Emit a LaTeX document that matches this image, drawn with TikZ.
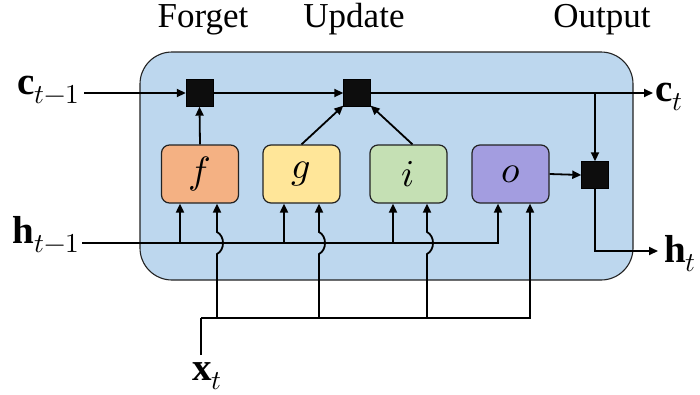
\documentclass[tikz,border=0pt]{standalone}
\usepackage{fontspec}
\usepackage{unicode-math}
\setmainfont{Liberation Serif}
\setmathfont{Latin Modern Math}
\usetikzlibrary{arrows.meta,calc}
\definecolor{cellblue}{HTML}{BDD7EE}
\definecolor{fcol}{HTML}{F4B183}
\definecolor{gcol}{HTML}{FFE699}
\definecolor{icol}{HTML}{C5E0B4}
\definecolor{ocol}{HTML}{A39DE0}
\definecolor{edge}{HTML}{222222}
\begin{document}
\begin{tikzpicture}[x=1pt,y=-1pt,
  line/.style={line width=1.8pt, black},
  arr/.style={line, -{Triangle[length=9pt,width=8pt]}},
  cellbox/.style={draw=edge, line width=1.1pt, fill=cellblue, rounded corners=32pt, minimum width=493pt, minimum height=228pt, inner sep=0pt},
  gate/.style={draw=edge, line width=1.2pt, rounded corners=8pt, minimum width=77pt, minimum height=58pt, inner sep=0pt, font=\fontsize{38}{40}\selectfont},
  mult/.style={fill=black!95, draw=black, minimum size=27pt, inner sep=0pt},
  title/.style={font=\fontsize{35}{38}\selectfont, anchor=base},
  io/.style={font=\fontsize{39}{42}\selectfont, inner sep=0pt}
]
\useasboundingbox (0,0) rectangle (700,394);
\node[cellbox] (cell) at (386.5,166) {};

% titles
\node[title] (tf) at (203,27) {Forget};
\node[title] (tu) at (354,27) {Update};
\node[title] (to) at (602,27) {Output};

% gates
\node[gate, fill=fcol] (f) at (200,174) {$f$};
\node[gate, fill=gcol] (g) at (301.5,174) {$g$};
\node[gate, fill=icol] (i) at (408.5,174) {$i$};
\node[gate, fill=ocol] (o) at (510.5,174) {$o$};

% multiplication squares
\node[mult] (fm) at (199.5,93) {};
\node[mult] (um) at (357,93) {};
\node[mult] (om) at (595,175) {};

% io labels
\node[io, anchor=base east] (cprev) at (80,94) {$\mathbf{c}_{t-1}$};
\node[io, anchor=base west] (cnext) at (655,101) {$\mathbf{c}_{t}$};
\node[io, anchor=base east] (hprev) at (80,243) {$\mathbf{h}_{t-1}$};
\node[io, anchor=base west] (hnext) at (664,262) {$\mathbf{h}_{t}$};
\node[io, anchor=base west] (xin) at (192,380) {$\mathbf{x}_{t}$};

\coordinate (cin) at (84,93);
\coordinate (cout) at (653,93);
\coordinate (hin) at (82,243);
\coordinate (hout) at (658,251);
\coordinate (xstart) at (201,355);
\coordinate (xbus) at (201,318);

% cell state
\draw[arr] (cin) -- (fm);
\draw[arr] (fm) -- (um);
\draw[arr] (um) -- (cout);
\draw[arr] (om.north |- cin) -- (om.north);

% gates to multipliers
\draw[arr] (f.north) -- (fm.south);
\draw[arr] (g.north) -- (um);
\draw[arr] ([xshift=4pt]i.north) -- (um);
\draw[arr] (o.east) -- (om.west);
\draw[arr] (om.south) |- (hout);

% hidden state inputs
\draw[arr] (hin) -| ([xshift=-12.5pt]o.south);
\draw[arr] ([xshift=-20pt]f.south |- hin) -- ([xshift=-20pt]f.south);
\draw[arr] ([xshift=-17.5pt]g.south |- hin) -- ([xshift=-17.5pt]g.south);
\draw[arr] ([xshift=-15.5pt]i.south |- hin) -- ([xshift=-15.5pt]i.south);

% x inputs
\draw[line] (xstart) -- (xbus);
\draw[arr] (xbus) -| ([xshift=19.5pt]o.south);
\draw[arr] (217,318) -- (217,254) .. controls (225,250) and (225,236) .. (217,232) -- ([xshift=17pt]f.south);
\draw[arr] (319,318) -- (319,254) .. controls (327,250) and (327,236) .. (319,232) -- ([xshift=17.5pt]g.south);
\draw[arr] (427,318) -- (427,254) .. controls (435,250) and (435,236) .. (427,232) -- ([xshift=18.5pt]i.south);
\end{tikzpicture}
\end{document}
